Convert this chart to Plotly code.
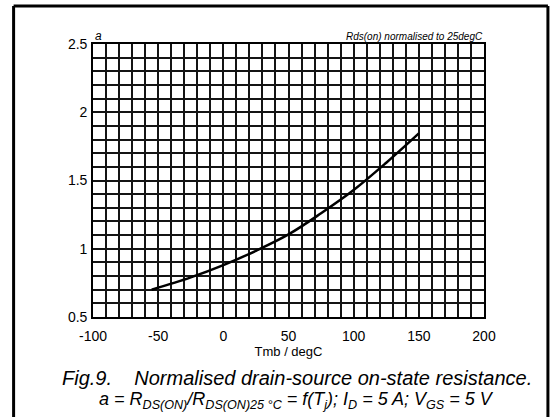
import plotly.graph_objects as go

# data
temp_degC = [-55, -25, 0, 25, 50, 75, 100, 125, 150]
a_norm = [0.70, 0.79, 0.88, 0.985, 1.105, 1.26, 1.43, 1.63, 1.845]

x_ticks = [-100, -50, 0, 50, 100, 150, 200]
y_ticks = [0.5, 1, 1.5, 2, 2.5]

W, H = 553, 418
plot_l, plot_r, plot_t, plot_b = 92.5, 484, 44, 317
L, T, R, B = plot_l, plot_t, W - plot_r, H - plot_b
pw, ph = W - L - R, H - T - B

def px_x(px):
    return (px - L) / pw

def px_y(py):
    return (H - B - py) / ph

font = "Liberation Sans, Arial, sans-serif"

fig = go.Figure()
fig.add_trace(go.Scatter(x=temp_degC, y=a_norm, mode="lines",
                         line=dict(color="black", width=2.5, shape="spline"),
                         showlegend=False, hoverinfo="skip"))

grid_c = "#141414"
fig.update_xaxes(range=[-100, 200], tickvals=x_ticks, ticktext=[str(v) for v in x_ticks],
                 showgrid=True, gridcolor=grid_c, gridwidth=1.7,
                 minor=dict(dtick=10, showgrid=True, gridcolor=grid_c, gridwidth=1.7, tick0=-100),
                 zeroline=False, showline=True, linecolor="black", linewidth=1.7, mirror=True,
                 ticks="", ticklen=0, ticklabelstandoff=5,
                 tickfont=dict(family=font, size=14, color="black"),
                 title=dict(text="Tmb / degC", font=dict(family=font, size=13, color="black"), standoff=0))
fig.update_yaxes(range=[0.5, 2.5], tickvals=y_ticks, ticktext=["0.5", "1", "1.5", "2", "2.5"],
                 showgrid=True, gridcolor=grid_c, gridwidth=1.7,
                 minor=dict(dtick=0.1, showgrid=True, gridcolor=grid_c, gridwidth=1.7, tick0=0.5),
                 zeroline=False, showline=True, linecolor="black", linewidth=1.7, mirror=True,
                 ticks="", ticklen=0, ticklabelstandoff=1,
                 tickfont=dict(family=font, size=14, color="black"))

fig.add_annotation(x=px_x(93), y=px_y(45), xref="paper", yref="paper",
                   text="<i>a</i>", showarrow=False, xanchor="left", yanchor="bottom",
                   font=dict(family=font, size=12, color="black"))
fig.add_annotation(x=px_x(485), y=px_y(44), xref="paper", yref="paper",
                   text="<i>Rds(on) normalised to 25degC</i>", showarrow=False,
                   xanchor="right", yanchor="bottom",
                   font=dict(family=font, size=10, color="black"))
fig.add_annotation(x=px_x(297), y=px_y(378), xref="paper", yref="paper",
                   text="<i>Fig.9.    Normalised drain-source on-state resistance.</i>",
                   showarrow=False, xanchor="center", yanchor="middle",
                   font=dict(family=font, size=20, color="black"))
fig.add_annotation(x=px_x(296), y=px_y(400), xref="paper", yref="paper",
                   text="<i>a = R<sub>DS(ON)</sub>/R<sub>DS(ON)25 °C</sub> = f(T<sub>j</sub>); I<sub>D</sub> = 5 A; V<sub>GS</sub> = 5 V</i>",
                   showarrow=False, xanchor="center", yanchor="middle",
                   font=dict(family=font, size=18, color="black"))

# outer frame (left, top, right)
frame = dict(color="black", width=3)
fig.add_shape(type="line", xref="paper", yref="paper",
              x0=px_x(13), x1=px_x(13), y0=px_y(417), y1=px_y(6), line=frame)
fig.add_shape(type="line", xref="paper", yref="paper",
              x0=px_x(13), x1=px_x(548), y0=px_y(6), y1=px_y(6), line=frame)
fig.add_shape(type="line", xref="paper", yref="paper",
              x0=px_x(548), x1=px_x(548), y0=px_y(417), y1=px_y(6), line=frame)

fig.update_layout(width=W, height=H, autosize=False,
                  margin=dict(l=L, r=R, t=T, b=B),
                  paper_bgcolor="white", plot_bgcolor="white",
                  font=dict(family=font, color="black"))

fig.write_html("out.html", config={"displayModeBar": False},
               post_script="document.body.style.margin='0';document.body.style.overflow='hidden';")
